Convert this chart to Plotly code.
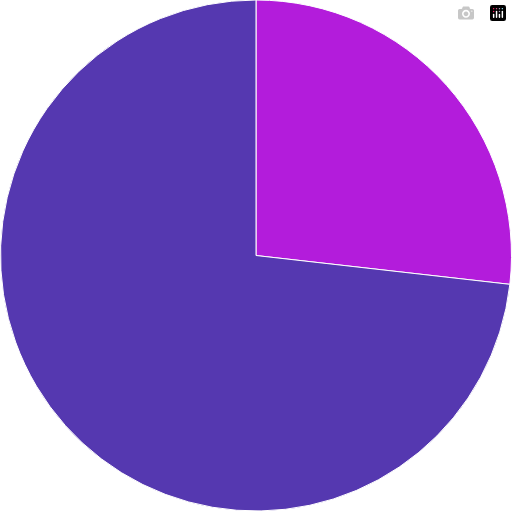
import plotly.graph_objects as go

labels = ["A", "B"]
values = [26.8, 73.2]
colors = ["#b31cdb", "#5538b0"]

fig = go.Figure(go.Pie(
    labels=labels, values=values, sort=False, direction="clockwise", rotation=0,
    marker=dict(colors=colors, line=dict(color="white", width=1)),
    textinfo="none", hoverinfo="label+percent",
))
fig.update_layout(
    width=512, height=511, showlegend=False,
    margin=dict(l=0, r=0, t=0, b=0),
    paper_bgcolor="white",
)
# drop the default page margin so the chart sits at the window corner
fig.write_html("out.html", post_script="document.body.style.margin='0';document.body.style.overflow='hidden';")
